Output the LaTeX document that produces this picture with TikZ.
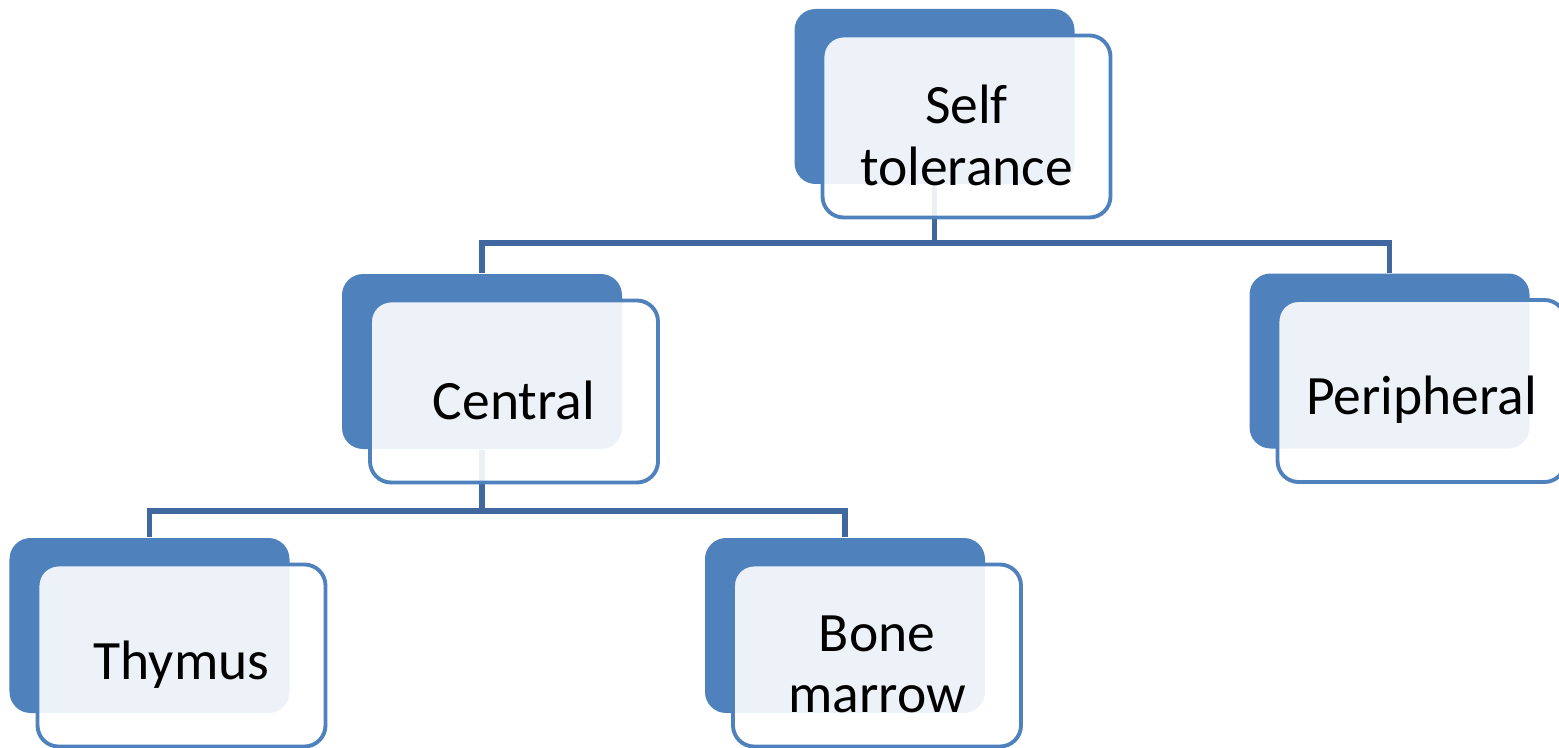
\documentclass[tikz,border=0pt]{standalone}
\usepackage{fontspec}
\setmainfont{Carlito}
\usepackage{tikz}
\usetikzlibrary{positioning, calc}
\definecolor{myblue}{RGB}{79,129,189}
\definecolor{mylink}{RGB}{64,104,158}
\tikzset{
  backbox/.style={rectangle, fill=myblue, minimum width=2.8cm, minimum height=1.75cm, rounded corners=6pt, inner sep=0pt},
  frontbox/.style={rectangle, draw=myblue, fill=white, fill opacity=0.9, line width=1.1pt, minimum width=2.88cm, minimum height=1.82cm, rounded corners=6pt},
  cardtext/.style={align=center, font=\fontsize{15.8}{17.5}\selectfont, text=black, yshift=-0.09cm},
  link/.style={line width=1.6pt, color=mylink}
}

\begin{document}
\begin{tikzpicture}
  \useasboundingbox (0,0) rectangle (15.59,-7.48);

  % Back plates
  \node[backbox] (selfbk) at (9.345,-0.965) {};
  \node[backbox] (centralbk) at (4.82,-3.615) {};
  \node[backbox] (peribk) at (13.895,-3.61) {};
  \node[backbox] (thymusbk) at (1.495,-6.255) {};
  \node[backbox] (bonebk) at (8.45,-6.255) {};

  % Tree connectors
  \draw[link] (selfbk.south) -- ++(0,-0.58) -| (centralbk.north);
  \draw[link] (selfbk.south) -- ++(0,-0.58) -| (peribk.north);
  \draw[link] (centralbk.south) -- ++(0,-0.61) -| (thymusbk.north);
  \draw[link] (centralbk.south) -- ++(0,-0.61) -| (bonebk.north);

  % Front cards with labels
  \node[frontbox, label={[cardtext]center:{Self\\tolerance}}] (self) at ($(selfbk.center)+(0.32,-0.30)$) {};
  \node[frontbox, label={[cardtext]center:Central}] (central) at ($(centralbk.center)+(0.32,-0.30)$) {};
  \node[frontbox, label={[cardtext]center:Peripheral}] (peri) at ($(peribk.center)+(0.32,-0.30)$) {};
  \node[frontbox, label={[cardtext]center:Thymus}] (thymus) at ($(thymusbk.center)+(0.32,-0.30)$) {};
  \node[frontbox, label={[cardtext]center:{Bone\\marrow}}] (bone) at ($(bonebk.center)+(0.32,-0.30)$) {};
\end{tikzpicture}
\end{document}
